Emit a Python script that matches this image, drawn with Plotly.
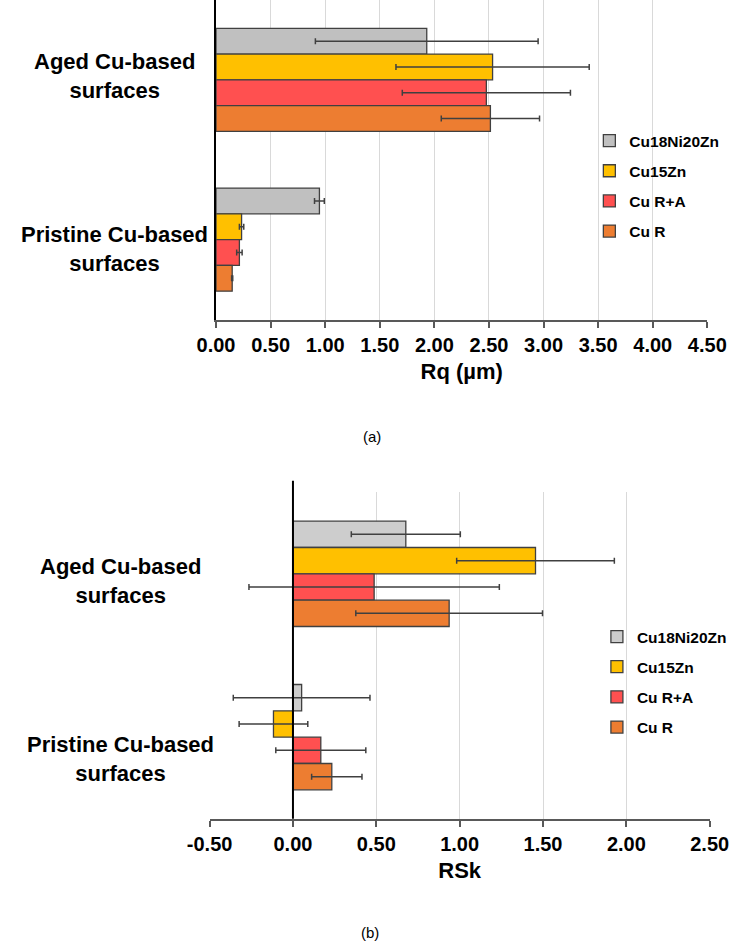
import plotly.graph_objects as go

# ---------------- data ----------------
categories = ["Aged Cu-based surfaces", "Pristine Cu-based surfaces"]
category_labels = ["Aged Cu-based<br>surfaces", "Pristine Cu-based<br>surfaces"]
series = ["Cu18Ni20Zn", "Cu15Zn", "Cu R+A", "Cu R"]

# (a) Rq (µm): values per series for [Aged, Pristine]
rq_cu18ni20zn = [1.93, 0.947]
rq_cu15zn = [2.533, 0.234]
rq_cur_a = [2.476, 0.214]
rq_cur = [2.513, 0.148]
rq_err_cu18ni20zn = [1.02, 0.045]
rq_err_cu15zn = [0.885, 0.02]
rq_err_cur_a = [0.77, 0.025]
rq_err_cur = [0.45, 0.005]

# (b) RSk
rsk_cu18ni20zn = [0.677, 0.052]
rsk_cu15zn = [1.455, -0.117]
rsk_cur_a = [0.487, 0.167]
rsk_cur = [0.937, 0.233]
rsk_errp_cu18ni20zn = [0.327, 0.41]
rsk_errm_cu18ni20zn = [0.327, 0.41]
rsk_errp_cu15zn = [0.473, 0.206]
rsk_errm_cu15zn = [0.473, 0.206]
rsk_errp_cur_a = [0.751, 0.27]
rsk_errm_cur_a = [0.751, 0.27]
rsk_errp_cur = [0.56, 0.181]
rsk_errm_cur = [0.56, 0.121]

rq_tickvals = [0, 0.5, 1, 1.5, 2, 2.5, 3, 3.5, 4, 4.5]
rq_ticktext = ["0.00", "0.50", "1.00", "1.50", "2.00", "2.50", "3.00", "3.50", "4.00", "4.50"]
rsk_tickvals = [-0.5, 0, 0.5, 1, 1.5, 2, 2.5]
rsk_ticktext = ["-0.50", "0.00", "0.50", "1.00", "1.50", "2.00", "2.50"]

# ---------------- style ----------------
W, H = 749, 944
FONT = "Liberation Sans, Arial, sans-serif"
colors_a = ["#C0C0C0", "#FFC000", "#FF5050", "#ED7D31"]
colors_b = ["#CDCDCD", "#FFC000", "#FF5050", "#ED7D31"]
edge = "#404040"

rq_vals = [rq_cu18ni20zn, rq_cu15zn, rq_cur_a, rq_cur]
rq_errs = [rq_err_cu18ni20zn, rq_err_cu15zn, rq_err_cur_a, rq_err_cur]
rsk_vals = [rsk_cu18ni20zn, rsk_cu15zn, rsk_cur_a, rsk_cur]
rsk_errp = [rsk_errp_cu18ni20zn, rsk_errp_cu15zn, rsk_errp_cur_a, rsk_errp_cur]
rsk_errm = [rsk_errm_cu18ni20zn, rsk_errm_cu15zn, rsk_errm_cur_a, rsk_errm_cur]

fig = go.Figure()
for i, name in enumerate(series):
    fig.add_trace(go.Bar(
        y=categories, x=rq_vals[i], orientation="h", name=name,
        marker=dict(color=colors_a[i], line=dict(color=edge, width=1.3)),
        error_x=dict(type="data", array=rq_errs[i], color=edge, thickness=1.5, width=3),
        xaxis="x", yaxis="y", legend="legend", legendgroup="a" + str(i),
    ))
for i, name in enumerate(series):
    fig.add_trace(go.Bar(
        y=categories, x=rsk_vals[i], orientation="h", name=name,
        marker=dict(color=colors_b[i], line=dict(color=edge, width=1.3)),
        error_x=dict(type="data", symmetric=False, array=rsk_errp[i], arrayminus=rsk_errm[i],
                     color=edge, thickness=1.5, width=3),
        xaxis="x2", yaxis="y2", legend="legend2", legendgroup="b" + str(i),
    ))

def px_x(p):
    return p / W

def px_y(p):
    return 1 - p / H

top_dom = [px_y(319.5), 1.0]
bot_dom = [px_y(818.8), px_y(492.2)]

common_x = dict(
    showgrid=True, gridcolor="#D9D9D9", gridwidth=1,
    showline=True, linecolor="#595959", linewidth=2,
    ticks="outside", ticklen=6, tickwidth=2, tickcolor="#595959",
    tickfont=dict(family=FONT, size=20, color="#000000", weight="bold"),
    zeroline=False, tickmode="array",
)
legend_style = dict(
    font=dict(family=FONT, size=15.5, color="#000000", weight="bold"),
    xanchor="left", yanchor="top", traceorder="grouped", tracegroupgap=7,
    bgcolor="rgba(0,0,0,0)", borderwidth=0,
)

fig.update_layout(
    width=W, height=H, autosize=False,
    margin=dict(l=0, r=0, t=0, b=0),
    paper_bgcolor="white", plot_bgcolor="white",
    barmode="group", bargap=0.355, bargroupgap=0,
    font=dict(family=FONT, color="#000000"),
    xaxis=dict(common_x, domain=[px_x(204.5), px_x(725)], anchor="y", range=[0, 4.5],
               tickvals=rq_tickvals, ticktext=rq_ticktext,
               title=dict(text="Rq (µm)", font=dict(family=FONT, size=22, weight="bold"), standoff=9)),
    yaxis=dict(domain=top_dom, anchor="x", range=[1.5, -0.5], showticklabels=False,
               showgrid=False, zeroline=False, showline=True, linecolor="#000000", linewidth=2,
               ticks=""),
    xaxis2=dict(common_x, domain=[px_x(197.7), px_x(727.5)], anchor="y2", range=[-0.5, 2.5],
                tickvals=rsk_tickvals, ticktext=rsk_ticktext,
                title=dict(text="RSk", font=dict(family=FONT, size=22, weight="bold"), standoff=9)),
    yaxis2=dict(domain=bot_dom, anchor="x2", range=[1.5, -0.5], showticklabels=False,
                showgrid=False, zeroline=False, showline=False, ticks=""),
    legend=dict(legend_style, x=px_x(600), y=px_y(124)),
    legend2=dict(legend_style, x=px_x(608), y=px_y(620)),
    shapes=[dict(type="line", xref="x2", x0=0, x1=0, yref="paper",
                 y0=bot_dom[0], y1=px_y(480.7), line=dict(color="#000000", width=2), layer="above")],
)

annotations = []
shifts_a = [4, -9]
shifts_b = [-7, -22]
for j, cat in enumerate(categories):
    annotations.append(dict(text=category_labels[j], xref="paper", x=px_x(97), yref="y", y=cat,
                            xanchor="center", yanchor="middle", showarrow=False, align="center",
                            yshift=shifts_a[j],
                            font=dict(family=FONT, size=22, color="#000000", weight="bold")))
    annotations.append(dict(text=category_labels[j], xref="paper", x=px_x(103), yref="y2", y=cat,
                            xanchor="center", yanchor="middle", showarrow=False, align="center",
                            yshift=shifts_b[j],
                            font=dict(family=FONT, size=22, color="#000000", weight="bold")))
annotations.append(dict(text="(a)", xref="paper", yref="paper", x=px_x(370), y=px_y(437),
                        xanchor="center", yanchor="middle", showarrow=False,
                        font=dict(family=FONT, size=15, color="#000000")))
annotations.append(dict(text="(b)", xref="paper", yref="paper", x=px_x(368), y=px_y(932),
                        xanchor="center", yanchor="middle", showarrow=False,
                        font=dict(family=FONT, size=15, color="#000000")))
fig.update_layout(annotations=annotations)

fig.write_html(
    "out.html",
    config={"displayModeBar": False},
    post_script="document.body.style.margin='0';document.body.style.overflow='hidden';",
)
